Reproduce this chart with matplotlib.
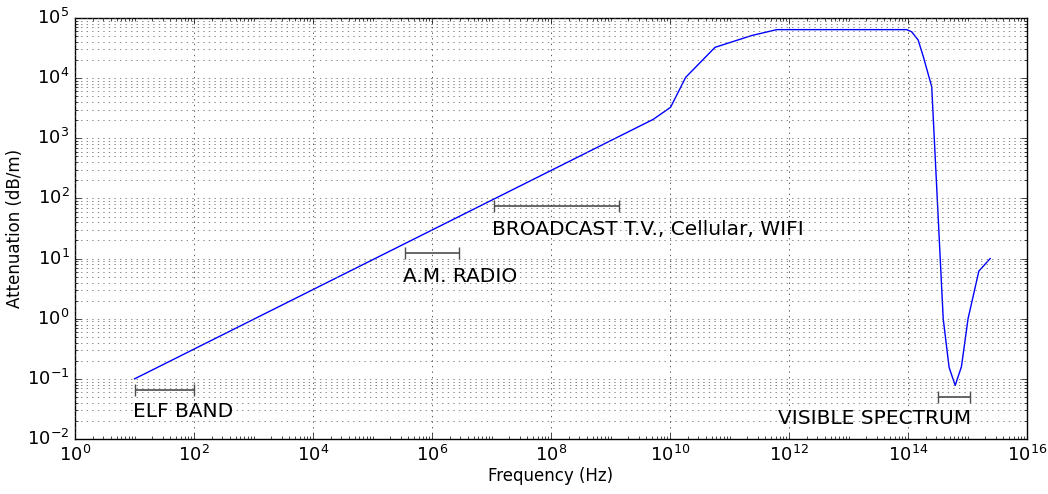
import matplotlib
matplotlib.use("Agg")
import matplotlib.pyplot as plt
from matplotlib.ticker import LogLocator, NullFormatter
import numpy as np

plt.style.use('classic')

# Attenuation curve (frequency in Hz, attenuation in dB/m)
freq = [1e1, 5.2e9, 1.02e10, 1.83e10, 5.7e10, 2.35e11, 6.2e11, 9.5e13,
        1.15e14, 1.48e14, 1.8e14, 2.5e14, 3.9e14, 4.9e14, 6.2e14, 7.9e14,
        1.02e15, 1.55e15, 2.4e15]
atten = [0.1, 2060, 3270, 1.03e4, 3.25e4, 5.1e4, 6.4e4, 6.4e4,
         5.9e4, 4.3e4, 2.3e4, 7.2e3, 1.0, 0.155, 0.078, 0.16,
         1.0, 6.2, 10.0]

# Frequency bands: name, start, stop, bar level, label level, alignment
band_names = ['ELF BAND', 'A.M. RADIO', 'BROADCAST T.V., Cellular, WIFI', 'VISIBLE SPECTRUM']
band_lo = [1e1, 3.5e5, 1.1e7, 3.2e14]
band_hi = [1e2, 2.8e6, 1.4e9, 1.1e15]
band_y = [0.065, 12.5, 75, 0.05]
label_y = [0.023, 4.1, 24.5, 0.0176]
label_ha = ['left', 'left', 'left', 'right']

fig = plt.figure(figsize=(10.48, 4.94), dpi=100, facecolor='white')
ax = fig.add_axes([0.0716, 0.1113, 0.9084, 0.8523])

ax.loglog(freq, atten, color='b', linewidth=1)

for name, lo, hi, by, ly, ha in zip(band_names, band_lo, band_hi, band_y, label_y, label_ha):
    mid = np.sqrt(lo * hi)
    ax.errorbar([mid], [by], xerr=[[mid - lo], [hi - mid]], fmt='none',
                ecolor='0.3', elinewidth=1.2, capsize=4, capthick=1)
    tx = lo if ha == 'left' else hi
    ax.text(tx * (0.93 if ha == 'left' else 1.05), ly, name, ha=ha, va='baseline', fontsize=14.5)

ax.set_xlim(1e0, 1e16)
ax.set_ylim(1e-2, 1e5)
ax.set_xticks([10.0 ** k for k in range(0, 17, 2)])
ax.xaxis.set_minor_locator(LogLocator(base=10, subs=np.arange(1, 10), numticks=200))
ax.xaxis.set_minor_formatter(NullFormatter())

ax.grid(True, which='major', axis='x', color='0.25', linestyle=':', linewidth=0.6)
ax.grid(True, which='both', axis='y', color='0.35', linestyle=':', linewidth=0.5)

ax.tick_params(labelsize=13)
ax.set_xlabel('Frequency (Hz)', fontsize=12, labelpad=2)
ax.set_ylabel('Attenuation (dB/m)', fontsize=12, labelpad=2)

fig.savefig('out.png', dpi=100, facecolor='white')
